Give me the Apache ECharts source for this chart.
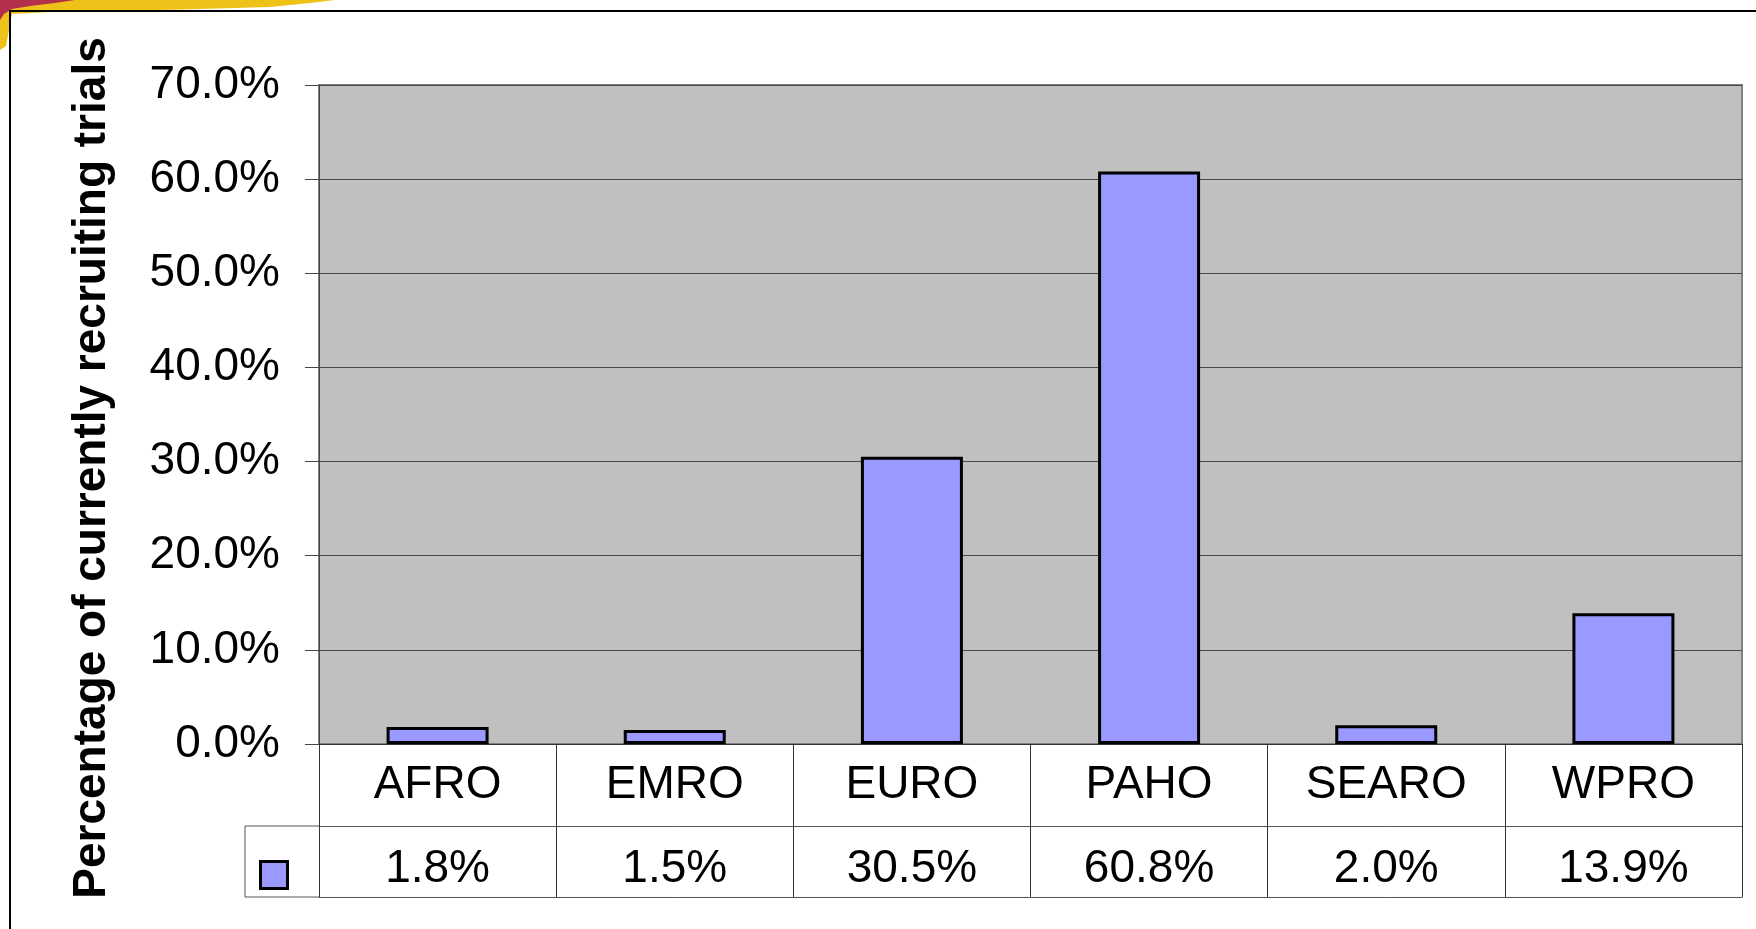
<!DOCTYPE html>
<html>
<head>
<meta charset="utf-8">
<script src="https://cdn.jsdelivr.net/npm/echarts@6/dist/echarts.min.js"></script>
<style>
html,body{margin:0;padding:0;background:#fff;}
#chart{width:1756px;height:929px;}
</style>
</head>
<body>
<div id="chart"></div>
<script>
const categories = ['AFRO', 'EMRO', 'EURO', 'PAHO', 'SEARO', 'WPRO'];
const values = [1.8, 1.5, 30.5, 60.8, 2.0, 13.9];
const yMin = 0, yMax = 70, yStep = 10;
const yTitle = 'Percentage of currently recruiting trials';
const seriesName = 'Currently recruiting trials';

const valueLabels = values.map(v => v.toFixed(1) + '%');
const FONT = '"Liberation Sans", Arial, sans-serif';

const chart = echarts.init(document.getElementById('chart'), null, {renderer: 'canvas'});
chart.setOption({
  animation: false,
  backgroundColor: '#ffffff',
  grid: {
    left: 319, top: 85, right: 14, bottom: 185,
    show: true, backgroundColor: '#C0C0C0', borderColor: '#808080', borderWidth: 2
  },
  legend: {
    left: 259, top: 860, padding: 0, itemWidth: 27, itemHeight: 27, icon: 'rect',
    data: [seriesName], formatter: () => '', itemGap: 0,
    itemStyle: {color: '#9999FF', borderColor: '#000', borderWidth: 3},
    selectedMode: false
  },
  xAxis: [
    {
      type: 'category', data: categories, position: 'bottom',
      axisLine: {show: true, lineStyle: {color: '#333', width: 1}},
      axisTick: {show: true, length: 153, interval: 0, lineStyle: {color: '#333', width: 1}},
      axisLabel: {show: true, interval: 0, fontSize: 46, lineHeight: 46, margin: 18, color: '#000', fontFamily: FONT},
      splitLine: {show: false}
    },
    {
      type: 'category', data: valueLabels, position: 'bottom', offset: 82,
      axisLine: {show: true, lineStyle: {color: '#555', width: 1}},
      axisTick: {show: false},
      axisLabel: {show: true, interval: 0, fontSize: 46, lineHeight: 46, margin: 20, color: '#000', fontFamily: FONT},
      splitLine: {show: false}
    },
    {
      type: 'category', data: categories, position: 'bottom', offset: 153,
      axisLine: {show: true, lineStyle: {color: '#555', width: 1}},
      axisTick: {show: false},
      axisLabel: {show: false},
      splitLine: {show: false}
    }
  ],
  yAxis: {
    type: 'value', min: yMin, max: yMax, interval: yStep,
    axisLine: {show: true, lineStyle: {color: '#444', width: 1}},
    axisTick: {show: true, length: 14, lineStyle: {color: '#444', width: 1}},
    axisLabel: {
      fontSize: 46, margin: 39, color: '#000', fontFamily: FONT,
      formatter: v => v.toFixed(1) + '%'
    },
    splitLine: {show: true, lineStyle: {color: '#4a4a4a', width: 1.2}}
  },
  series: [{
    name: seriesName,
    type: 'bar',
    xAxisIndex: 0,
    data: values,
    barWidth: 102,
    itemStyle: {color: '#9999FF', borderColor: '#000', borderWidth: 3}
  }],
  graphic: [
    {type: 'polygon', silent: true, z: 100,
     shape: {points: [[0,0],[335,0],[310,3],[270,7],[200,9],[120,11],[50,12],[12,14],[9,30],[6,46],[0,50]]},
     style: {fill: '#EEC218'}},
    {type: 'polygon', silent: true, z: 101,
     shape: {points: [[0,0],[75,0],[55,3],[30,6],[12,9],[4,14],[0,20]]},
     style: {fill: '#B3304A'}},
    {type: 'rect', silent: true, z: 102,
     shape: {x: 10, y: 11, width: 1800, height: 1000},
     style: {fill: 'none', stroke: '#000', lineWidth: 2}},
    {type: 'polyline', silent: true, z: 50,
     shape: {points: [[319,826],[245,826],[245,897],[319,897]]},
     style: {stroke: '#555', lineWidth: 1, fill: 'none'}},
    {type: 'text', silent: true, z: 60,
     x: 92, y: 468, rotation: Math.PI / 2,
     style: {text: yTitle, fontSize: 46, fontWeight: 'bold', fontFamily: FONT, fill: '#000',
             align: 'center', verticalAlign: 'middle'}}
  ]
});
</script>
</body>
</html>
